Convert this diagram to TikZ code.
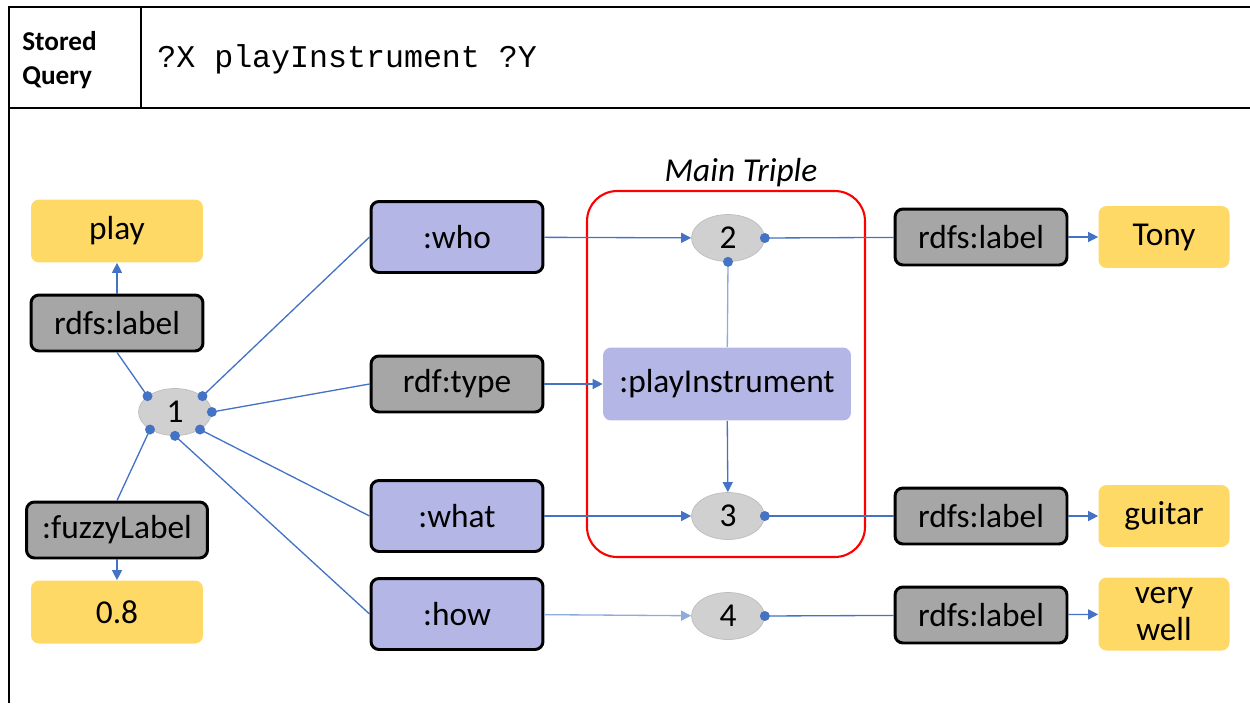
\documentclass[tikz,border=0pt]{standalone}
\usepackage{fontspec}
\setmainfont{Carlito}
\setmonofont{Liberation Mono}
\usetikzlibrary{arrows.meta,shapes.geometric,positioning}

\definecolor{valyellow}{HTML}{FFD966}
\definecolor{propgray}{HTML}{A6A6A6}
\definecolor{respurple}{HTML}{B4B7E5}
\definecolor{blankgray}{HTML}{D0D0D0}
\definecolor{blankline}{HTML}{BDBDBD}
\definecolor{linkblue}{HTML}{4472C4}
\definecolor{linklight}{HTML}{8FAADC}

\begin{document}
\begin{tikzpicture}[x=0.02cm,y=-0.02cm,
  font=\fontsize{19}{22}\selectfont,
  value/.style={fill=valyellow, rounded corners=0.16cm, minimum width=3.44cm, minimum height=1.26cm, inner sep=0pt, align=center},
  prop/.style={draw=black, line width=1.7pt, fill=propgray, rounded corners=0.16cm, minimum width=3.44cm, minimum height=1.12cm, inner sep=0pt},
  res/.style={prop, fill=respurple, minimum height=1.42cm},
  blank/.style={ellipse, draw=blankline, fill=blankgray, minimum width=1.46cm, minimum height=0.94cm, inner sep=0pt},
  link/.style={draw=linkblue, line width=0.75pt},
  arr/.style={link, -{Triangle[length=0.2cm,width=0.2cm]}},
  dot/.style={fill=linkblue}]
  \useasboundingbox (0,0) rectangle (1250,703);

  % table frame
  \draw [line width=1.7pt] (9,7) -- (1250,7);
  \draw [line width=1.7pt] (9,108) -- (1250,108);
  \draw [line width=1.7pt] (9,6) -- (9,703);
  \draw [line width=1.7pt] (141,7) -- (141,108);
  \node [font=\bfseries\fontsize{15.5}{19}\selectfont, align=left, anchor=west, inner sep=0pt] (head) at (22,60) {Stored\\Query};
  \node [font=\ttfamily\fontsize{18}{22}\selectfont, anchor=west, inner sep=0pt] (query) at (157,59) {?X playInstrument ?Y};

  % main triple frame
  \node [draw=red, line width=1.2pt, rounded corners=0.6cm, minimum width=5.56cm, minimum height=7.32cm] (frame) at (726,374) {};
  \node [font=\itshape\fontsize{19}{22}\selectfont] (title) at (741,173) {Main Triple};

  % left side
  \node [value] (play) at (117,231) {play};
  \node [prop] (lbl1) at (117,323) {rdfs:label};
  \node [blank] (n1) at (175,412) {1};
  \node [prop, minimum width=3.62cm] (fuzzy) at (117,530) {:fuzzyLabel};
  \node [value] (deg) at (117,612) {0.8};

  % middle column
  \node [res] (who) at (457,237) {:who};
  \node [prop] (type) at (457,384) {rdf:type};
  \node [res] (what) at (457,516) {:what};
  \node [res] (how) at (457,614) {:how};

  \node [blank] (n2) at (728,238) {2};
  \node [fill=respurple, rounded corners=0.16cm, minimum width=4.96cm, minimum height=1.46cm] (pi) at (727,384) {:playInstrument};
  \node [blank] (n3) at (728,516) {3};
  \node [blank] (n4) at (728,616) {4};

  % right side
  \node [prop] (lbl2) at (981,237) {rdfs:label};
  \node [prop] (lbl3) at (981,516) {rdfs:label};
  \node [prop] (lbl4) at (981,615) {rdfs:label};
  \node [value, minimum width=2.62cm, minimum height=1.24cm] (tony) at (1164,237) {Tony};
  \node [value, minimum width=2.62cm, minimum height=1.24cm] (guitar) at (1164,516) {guitar};
  \node [value, minimum width=2.62cm, minimum height=1.46cm, font=\fontsize{19}{21}\selectfont] (well) at (1164,614) {very\\well};

  % connectors
  \draw [arr] (lbl1) -- (play);
  \draw [link] (n1.150) -- (lbl1.south);
  \draw [link] (n1.30) -- (who.west);
  \draw [link] (n1.0) -- (type.west);
  \draw [link] (n1.-35) -- (what.west);
  \draw [link] (n1.-90) -- (how.west);
  \draw [link] (n1.-145) -- (fuzzy.north);
  \draw [arr] (fuzzy) -- (deg);

  \draw [arr] (who) -- (n2);
  \draw [arr] (type) -- (pi);
  \draw [arr] (what) -- (n3);
  \draw [arr, draw=linklight] (how) -- (n4);
  \draw [link, draw=linklight] (n2.south) -- (pi);
  \draw [arr] (pi) -- (n3);

  \draw [link] (n2.east) -- (lbl2);
  \draw [link] (n3.east) -- (lbl3);
  \draw [link] (n4.east) -- (lbl4);
  \draw [arr] (lbl2) -- (tony);
  \draw [arr] (lbl3) -- (guitar);
  \draw [arr] (lbl4) -- (well);

  % anchor dots
  \foreach \a in {150,30,0,-35,-90,-145}
    \fill [dot] (n1.\a) circle (0.1cm);
  \fill [dot] (n2.east) circle (0.1cm);
  \fill [dot] (n2.south) circle (0.1cm);
  \fill [dot] (n3.east) circle (0.1cm);
  \fill [dot] (n4.east) circle (0.1cm);
\end{tikzpicture}
\end{document}
